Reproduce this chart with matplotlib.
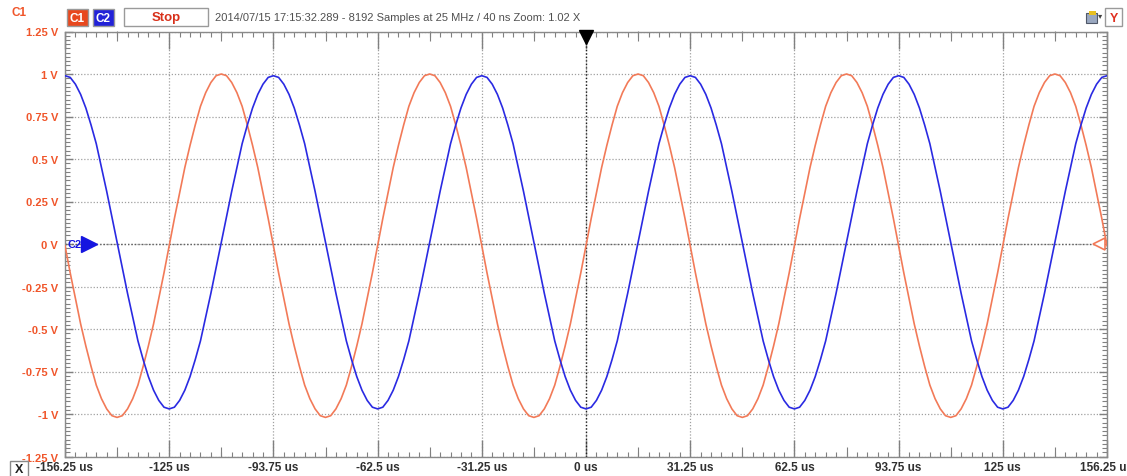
import numpy as np
import matplotlib.pyplot as plt
from matplotlib.ticker import MultipleLocator
from matplotlib.patches import Rectangle

# scope capture, one sample read every 1.5625 us (40 per 62.5 us period)
t_start_us = -156.25
t_step_us = 1.5625

c1_volts = [
    -0.01, -0.17, -0.32, -0.47, -0.60, -0.72, -0.83, -0.91, -0.97, -1.01,
    -1.02, -1.01, -0.97, -0.91, -0.83, -0.72, -0.60, -0.47, -0.32, -0.17,
    -0.01, 0.15, 0.30, 0.45, 0.58, 0.70, 0.81, 0.89, 0.95, 0.99,
    1.00, 0.99, 0.95, 0.89, 0.81, 0.70, 0.58, 0.45, 0.30, 0.15,
    -0.01, -0.17, -0.32, -0.47, -0.60, -0.72, -0.83, -0.91, -0.97, -1.01,
    -1.02, -1.01, -0.97, -0.91, -0.83, -0.72, -0.60, -0.47, -0.32, -0.17,
    -0.01, 0.15, 0.30, 0.45, 0.58, 0.70, 0.81, 0.89, 0.95, 0.99,
    1.00, 0.99, 0.95, 0.89, 0.81, 0.70, 0.58, 0.45, 0.30, 0.15,
    -0.01, -0.17, -0.32, -0.47, -0.60, -0.72, -0.83, -0.91, -0.97, -1.01,
    -1.02, -1.01, -0.97, -0.91, -0.83, -0.72, -0.60, -0.47, -0.32, -0.17,
    -0.01, 0.15, 0.30, 0.45, 0.58, 0.70, 0.81, 0.89, 0.95, 0.99,
    1.00, 0.99, 0.95, 0.89, 0.81, 0.70, 0.58, 0.45, 0.30, 0.15,
    -0.01, -0.17, -0.32, -0.47, -0.60, -0.72, -0.83, -0.91, -0.97, -1.01,
    -1.02, -1.01, -0.97, -0.91, -0.83, -0.72, -0.60, -0.47, -0.32, -0.17,
    -0.01, 0.15, 0.30, 0.45, 0.58, 0.70, 0.81, 0.89, 0.95, 0.99,
    1.00, 0.99, 0.95, 0.89, 0.81, 0.70, 0.58, 0.45, 0.30, 0.15,
    -0.01, -0.17, -0.32, -0.47, -0.60, -0.72, -0.83, -0.91, -0.97, -1.01,
    -1.02, -1.01, -0.97, -0.91, -0.83, -0.72, -0.60, -0.47, -0.32, -0.17,
    -0.01, 0.15, 0.30, 0.45, 0.58, 0.70, 0.81, 0.89, 0.95, 0.99,
    1.00, 0.99, 0.95, 0.89, 0.81, 0.70, 0.58, 0.45, 0.30, 0.15,
    -0.01,
]
c2_volts = [
    0.99, 0.98, 0.94, 0.88, 0.80, 0.70, 0.59, 0.45, 0.31, 0.16,
    0.01, -0.14, -0.29, -0.43, -0.57, -0.68, -0.78, -0.86, -0.92, -0.96,
    -0.97, -0.96, -0.92, -0.86, -0.78, -0.68, -0.57, -0.43, -0.29, -0.14,
    0.01, 0.16, 0.31, 0.45, 0.59, 0.70, 0.80, 0.88, 0.94, 0.98,
    0.99, 0.98, 0.94, 0.88, 0.80, 0.70, 0.59, 0.45, 0.31, 0.16,
    0.01, -0.14, -0.29, -0.43, -0.57, -0.68, -0.78, -0.86, -0.92, -0.96,
    -0.97, -0.96, -0.92, -0.86, -0.78, -0.68, -0.57, -0.43, -0.29, -0.14,
    0.01, 0.16, 0.31, 0.45, 0.59, 0.70, 0.80, 0.88, 0.94, 0.98,
    0.99, 0.98, 0.94, 0.88, 0.80, 0.70, 0.59, 0.45, 0.31, 0.16,
    0.01, -0.14, -0.29, -0.43, -0.57, -0.68, -0.78, -0.86, -0.92, -0.96,
    -0.97, -0.96, -0.92, -0.86, -0.78, -0.68, -0.57, -0.43, -0.29, -0.14,
    0.01, 0.16, 0.31, 0.45, 0.59, 0.70, 0.80, 0.88, 0.94, 0.98,
    0.99, 0.98, 0.94, 0.88, 0.80, 0.70, 0.59, 0.45, 0.31, 0.16,
    0.01, -0.14, -0.29, -0.43, -0.57, -0.68, -0.78, -0.86, -0.92, -0.96,
    -0.97, -0.96, -0.92, -0.86, -0.78, -0.68, -0.57, -0.43, -0.29, -0.14,
    0.01, 0.16, 0.31, 0.45, 0.59, 0.70, 0.80, 0.88, 0.94, 0.98,
    0.99, 0.98, 0.94, 0.88, 0.80, 0.70, 0.59, 0.45, 0.31, 0.16,
    0.01, -0.14, -0.29, -0.43, -0.57, -0.68, -0.78, -0.86, -0.92, -0.96,
    -0.97, -0.96, -0.92, -0.86, -0.78, -0.68, -0.57, -0.43, -0.29, -0.14,
    0.01, 0.16, 0.31, 0.45, 0.59, 0.70, 0.80, 0.88, 0.94, 0.98,
    0.99,
]

x_ticks = [-156.25, -125, -93.75, -62.5, -31.25, 0, 31.25, 62.5, 93.75, 125, 156.25]
x_labels = ["-156.25 us", "-125 us", "-93.75 us", "-62.5 us", "-31.25 us", "0 us",
            "31.25 us", "62.5 us", "93.75 us", "125 us", "156.25 us"]
y_ticks = [1.25, 1, 0.75, 0.5, 0.25, 0, -0.25, -0.5, -0.75, -1, -1.25]
y_labels = ["1.25 V", "1 V", "0.75 V", "0.5 V", "0.25 V", "0 V",
            "-0.25 V", "-0.5 V", "-0.75 V", "-1 V", "-1.25 V"]
trigger_us = 0
info = "2014/07/15 17:15:32.289 - 8192 Samples at 25 MHz / 40 ns Zoom: 1.02 X"

C1_COL = "#F27A58"
C2_COL = "#2A2AE2"
LBL_COL = "#F0552A"
FW, FH = 1127, 477

plt.rcParams['font.family'] = ['Liberation Sans', 'DejaVu Sans']

t = t_start_us + t_step_us * np.arange(len(c1_volts))

fig = plt.figure(figsize=(FW / 100, FH / 100), dpi=100)
ax = fig.add_axes([65 / FW, 19.5 / FH, 1042 / FW, 425 / FH])
ax.set_xlim(x_ticks[0], x_ticks[-1])
ax.set_ylim(y_ticks[-1], y_ticks[0])

ax.plot(t, c1_volts, color=C1_COL, lw=1.2, zorder=3)
ax.plot(t, c2_volts, color=C2_COL, lw=1.2, zorder=4)

# grid + ticks
ax.set_xticks(x_ticks)
ax.set_xticklabels(x_labels)
ax.set_yticks(y_ticks)
ax.set_yticklabels(y_labels)
ax.grid(True, which='major', ls=(0, (1, 1.5)), color='#a0a0a0', lw=0.9)
ax.axhline(0, ls=(0, (1, 1.5)), color='#606060', lw=1.0)
ax.axvline(trigger_us, ls=(0, (1, 1.5)), color='#202020', lw=1.0)

ax.xaxis.set_minor_locator(MultipleLocator(3.125))
ax.yaxis.set_minor_locator(MultipleLocator(0.025))
ax.tick_params(which='both', direction='in', color='#808080', top=True, right=True)
ax.tick_params(axis='x', which='major', length=12, width=1, pad=3, labelsize=8.5)
ax.tick_params(axis='y', which='major', length=6, width=1, pad=5, labelsize=8,
               labelcolor=LBL_COL)
ax.tick_params(which='minor', length=3.5, width=0.8)
for lab in ax.get_xticklabels() + ax.get_yticklabels():
    lab.set_fontweight('bold')
for lab in ax.get_xticklabels():
    lab.set_color('#303030')

mid_ticks = [a + (b - a) / 2 for a, b in zip(x_ticks[:-1], x_ticks[1:])]
for loc in ('bottom', 'top'):
    sec = ax.secondary_xaxis(loc)
    sec.set_xticks(mid_ticks)
    sec.tick_params(direction='in', length=7, width=0.8, color='#808080',
                    labelbottom=False, labeltop=False)
    sec.spines[loc].set_visible(False)

for s in ax.spines.values():
    s.set_color('#8a8a8a')
    s.set_linewidth(1)

# markers: trigger, C2 level, C1 level
ax.plot([trigger_us], [1.215], marker='v', color='black', ms=10, clip_on=False, zorder=6)
ytr = ax.get_yaxis_transform()
ax.plot([0.023], [0], marker='>', color='#1515E0', ms=11, transform=ytr,
        clip_on=False, zorder=6)
ax.text(0.002, 0, "C2", color='#1515E0', fontsize=8, fontweight='bold',
        va='center', ha='left', transform=ytr, zorder=6)
ax.plot([0.992], [0], marker='<', mfc='white', mec=C1_COL, mew=1.2, ms=9,
        transform=ytr, clip_on=False, zorder=6)


# header / toolbar
def px(x, y):
    return x / FW, 1 - y / FH


def box(x0, y0, x1, y1, fc, ec, txt, tc, size=9):
    fig.patches.append(Rectangle(px(x0, y1), (x1 - x0) / FW, (y1 - y0) / FH,
                                 transform=fig.transFigure, fc=fc, ec=ec, lw=1))
    fig.text(*px((x0 + x1) / 2, (y0 + y1) / 2 + 0.5), txt, color=tc, fontsize=size,
             fontweight='bold', ha='center', va='center')


fig.text(*px(12, 13), "C1", color=LBL_COL, fontsize=8.5, fontweight='bold',
         ha='left', va='center')
box(67, 10, 88, 27, '#E8481E', '#9a9a9a', "C1", 'white', 8.5)
box(93, 10, 114, 27, '#2222D8', '#9a9a9a', "C2", 'white', 8.5)
box(124, 9, 208, 27, 'white', '#9a9a9a', "Stop", '#D8301A', 9.5)
fig.text(*px(215, 18), info, color='#505050', fontsize=8,
         ha='left', va='center')
fig.patches.append(Rectangle(px(1086, 24), 11 / FW, 10 / FH, transform=fig.transFigure,
                             fc='#9aa8c0', ec='#505868', lw=0.8))
fig.patches.append(Rectangle(px(1089, 16), 7 / FW, 4 / FH, transform=fig.transFigure,
                             fc='#e8c020', ec='none'))
fig.text(*px(1100, 17), "\u25be", color='#404040', fontsize=6, ha='center', va='center')
box(1105, 9, 1122, 27, 'white', '#9a9a9a', "Y", '#E03020', 9)
box(10, 462, 28, 478, 'white', '#8a8a8a', "X", '#202020', 9)

fig.savefig("out.png", dpi=100)
